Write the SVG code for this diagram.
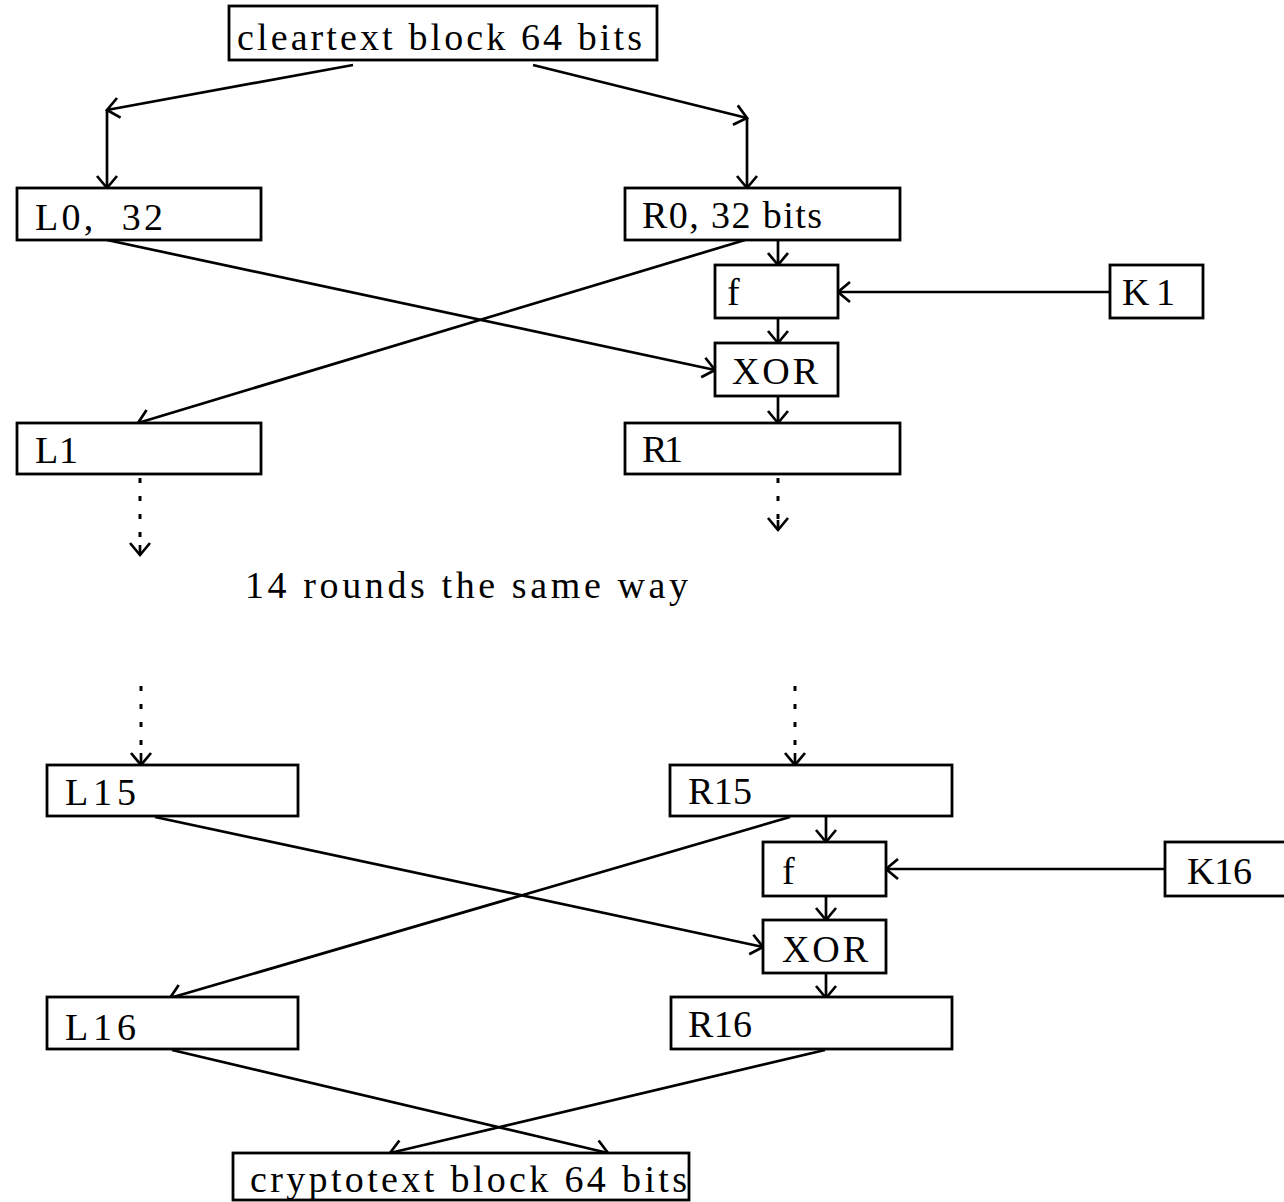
<svg xmlns="http://www.w3.org/2000/svg" width="1284" height="1202" viewBox="0 0 1284 1202">
<style>
.box{fill:#fff;stroke:#000;stroke-width:2.8}
.t{font-family:"Liberation Serif","Times New Roman",serif;font-size:38px;fill:#000;white-space:pre}
.c{fill:none;stroke:#000;stroke-width:2.7}
.d{fill:none;stroke:#000;stroke-width:3;stroke-dasharray:5 13}
</style>
<defs>
<marker id="ah" markerUnits="userSpaceOnUse" markerWidth="16" markerHeight="22" refX="13" refY="11" orient="auto" overflow="visible">
<path d="M1,1 L13,11 L1,21" fill="none" stroke="#000" stroke-width="2.7"/>
</marker>
</defs>
<rect width="1284" height="1202" fill="#fff"/>
<g id="connectors">
<polyline class="c" points="353,65 107,110" marker-end="url(#ah)"/>
<line class="c" x1="107" y1="110" x2="107" y2="188" marker-end="url(#ah)"/>
<polyline class="c" points="533,65 747,118" marker-end="url(#ah)"/>
<line class="c" x1="747" y1="118" x2="747" y2="188" marker-end="url(#ah)"/>
<line class="c" x1="107" y1="240" x2="715" y2="370" marker-end="url(#ah)"/>
<line class="c" x1="745" y1="240" x2="138" y2="423" marker-end="url(#ah)"/>
<line class="c" x1="778" y1="240" x2="778" y2="265" marker-end="url(#ah)"/>
<line class="c" x1="1110" y1="292" x2="838" y2="292" marker-end="url(#ah)"/>
<line class="c" x1="778" y1="318" x2="778" y2="343" marker-end="url(#ah)"/>
<line class="c" x1="778" y1="396" x2="778" y2="423" marker-end="url(#ah)"/>
<line class="d" x1="140" y1="478" x2="140" y2="548"/>
<line class="c" x1="140" y1="545" x2="140" y2="555" marker-end="url(#ah)"/>
<line class="d" x1="778" y1="478" x2="778" y2="520"/>
<line class="c" x1="778" y1="520" x2="778" y2="530" marker-end="url(#ah)"/>
<line class="d" x1="141" y1="686" x2="141" y2="756"/>
<line class="c" x1="141" y1="753" x2="141" y2="765" marker-end="url(#ah)"/>
<line class="d" x1="795" y1="686" x2="795" y2="756"/>
<line class="c" x1="795" y1="753" x2="795" y2="765" marker-end="url(#ah)"/>
<line class="c" x1="155" y1="817" x2="763" y2="947" marker-end="url(#ah)"/>
<line class="c" x1="790" y1="817" x2="170" y2="998" marker-end="url(#ah)"/>
<line class="c" x1="826" y1="817" x2="826" y2="842" marker-end="url(#ah)"/>
<line class="c" x1="1165" y1="869" x2="886" y2="869" marker-end="url(#ah)"/>
<line class="c" x1="826" y1="896" x2="826" y2="920" marker-end="url(#ah)"/>
<line class="c" x1="826" y1="973" x2="826" y2="998" marker-end="url(#ah)"/>
<line class="c" x1="172" y1="1050" x2="608" y2="1153" marker-end="url(#ah)"/>
<line class="c" x1="825" y1="1050" x2="390" y2="1153" marker-end="url(#ah)"/>
</g>
<g id="cleartext"><rect class="box" x="229" y="6" width="428" height="54"/><text class="t" x="237" y="50" textLength="405" lengthAdjust="spacing">cleartext block 64 bits</text></g>
<g id="L0"><rect class="box" x="17" y="188" width="244" height="52"/><text class="t" x="35" y="230" textLength="128" lengthAdjust="spacing">L0,  32</text></g>
<g id="R0"><rect class="box" x="625" y="188" width="275" height="52"/><text class="t" x="642" y="228" textLength="180" lengthAdjust="spacing">R0, 32 bits</text></g>
<g id="f1"><rect class="box" x="715" y="265" width="123" height="53"/><text class="t" x="727" y="305">f</text></g>
<g id="K1"><rect class="box" x="1110" y="265" width="93" height="53"/><text class="t" x="1122" y="305" textLength="53" lengthAdjust="spacing">K1</text></g>
<g id="XOR1"><rect class="box" x="715" y="343" width="123" height="53"/><text class="t" x="732" y="384" textLength="86" lengthAdjust="spacing">XOR</text></g>
<g id="L1"><rect class="box" x="17" y="423" width="244" height="51"/><text class="t" x="35" y="463" textLength="43" lengthAdjust="spacing">L1</text></g>
<g id="R1"><rect class="box" x="625" y="423" width="275" height="51"/><text class="t" x="642" y="462" textLength="41" lengthAdjust="spacing">R1</text></g>
<g id="note"><text class="t" x="245" y="598" textLength="443" lengthAdjust="spacing">14 rounds the same way</text></g>
<g id="L15"><rect class="box" x="47" y="765" width="251" height="51"/><text class="t" x="65" y="805" textLength="71" lengthAdjust="spacing">L15</text></g>
<g id="R15"><rect class="box" x="670" y="765" width="282" height="51"/><text class="t" x="688" y="804" textLength="64" lengthAdjust="spacing">R15</text></g>
<g id="f16"><rect class="box" x="763" y="842" width="123" height="54"/><text class="t" x="782" y="884">f</text></g>
<g id="K16"><rect class="box" x="1165" y="842" width="130" height="54"/><text class="t" x="1187" y="884" textLength="65" lengthAdjust="spacing">K16</text></g>
<g id="XOR16"><rect class="box" x="763" y="920" width="123" height="53"/><text class="t" x="782" y="962" textLength="86" lengthAdjust="spacing">XOR</text></g>
<g id="L16"><rect class="box" x="47" y="997" width="251" height="52"/><text class="t" x="65" y="1040" textLength="71" lengthAdjust="spacing">L16</text></g>
<g id="R16"><rect class="box" x="671" y="997" width="281" height="52"/><text class="t" x="688" y="1037" textLength="64" lengthAdjust="spacing">R16</text></g>
<g id="cryptotext"><rect class="box" x="233" y="1153" width="456" height="47"/><text class="t" x="250" y="1192" textLength="437" lengthAdjust="spacing">cryptotext block 64 bits</text></g>
</svg>
